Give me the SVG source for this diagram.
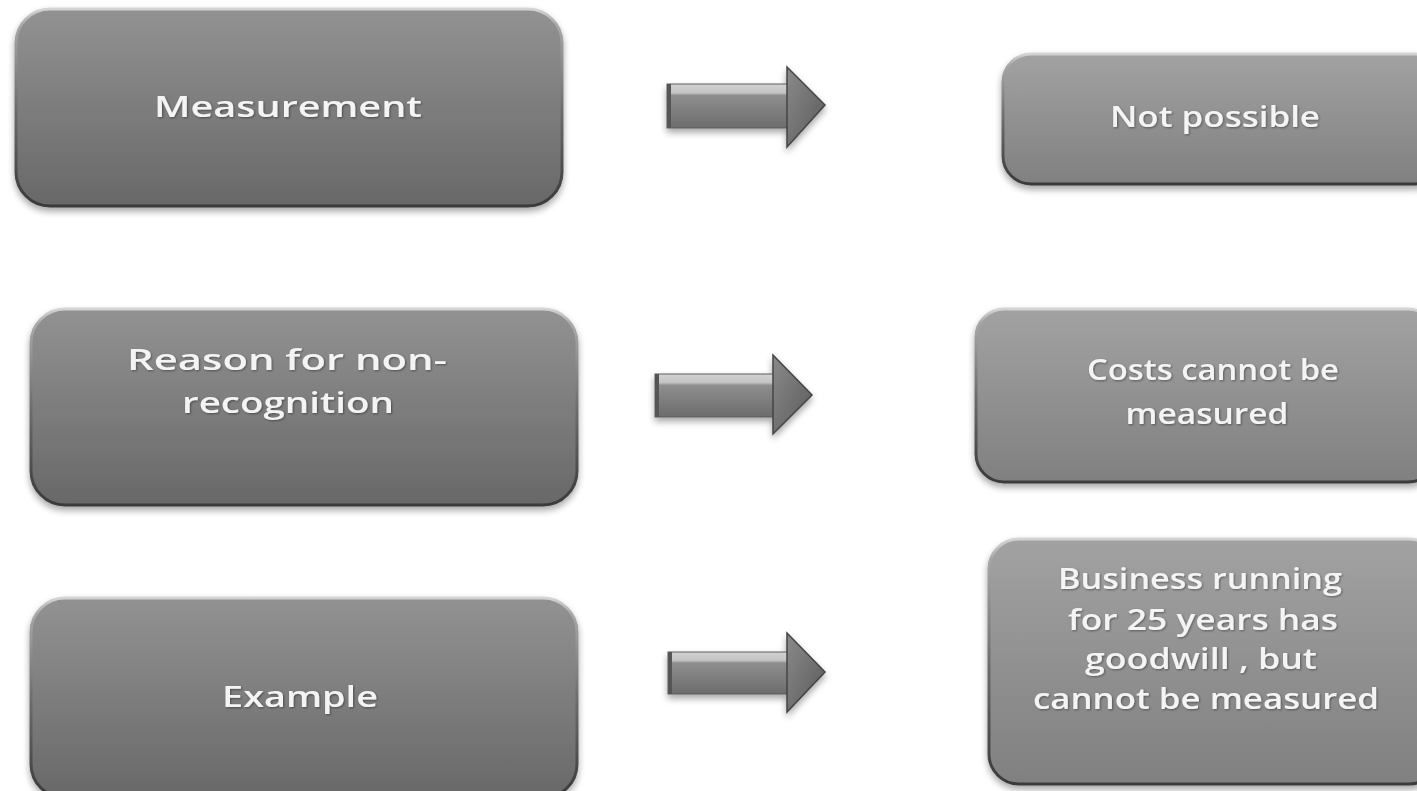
<svg xmlns="http://www.w3.org/2000/svg" width="1417" height="791" viewBox="0 0 1417 791">
  <defs>
    <linearGradient id="fillDark" x1="0" y1="0" x2="0" y2="1">
      <stop offset="0" stop-color="#929292"/>
      <stop offset="1" stop-color="#686868"/>
    </linearGradient>
    <linearGradient id="fillLight" x1="0" y1="0" x2="0" y2="1">
      <stop offset="0" stop-color="#a2a2a2"/>
      <stop offset="1" stop-color="#808080"/>
    </linearGradient>
    <linearGradient id="rim" x1="0" y1="0" x2="0" y2="1">
      <stop offset="0" stop-color="#d4d4d4"/>
      <stop offset="0.08" stop-color="#a8a8a8"/>
      <stop offset="0.5" stop-color="#6e6e6e"/>
      <stop offset="1" stop-color="#3a3a3a"/>
    </linearGradient>
    <linearGradient id="shaft" x1="0" y1="0" x2="0" y2="1">
      <stop offset="0" stop-color="#d2d2d2"/>
      <stop offset="0.2" stop-color="#c4c4c4"/>
      <stop offset="0.26" stop-color="#8e8e8e"/>
      <stop offset="1" stop-color="#6c6c6c"/>
    </linearGradient>
    <linearGradient id="head" x1="0" y1="0" x2="1" y2="1">
      <stop offset="0" stop-color="#8a8a8a"/>
      <stop offset="1" stop-color="#5a5a5a"/>
    </linearGradient>
    <filter id="shadow" x="-10%" y="-10%" width="120%" height="130%">
      <feGaussianBlur in="SourceAlpha" stdDeviation="3.5"/>
      <feOffset dx="0" dy="4" result="b"/>
      <feComponentTransfer><feFuncA type="linear" slope="0.35"/></feComponentTransfer>
      <feMerge><feMergeNode/><feMergeNode in="SourceGraphic"/></feMerge>
    </filter>
    <filter id="txtShadow" x="-5%" y="-20%" width="110%" height="140%">
      <feDropShadow dx="1" dy="1" stdDeviation="0.8" flood-color="#000" flood-opacity="0.4"/>
    </filter>
  </defs>
  <style>
    .box { stroke: url(#rim); stroke-width: 3; filter: url(#shadow); }
    .left { fill: url(#fillDark); }
    .right { fill: url(#fillLight); }
    .label { font-family: "Open Sans", "Liberation Sans", sans-serif; font-weight: 600; font-size: 28px; fill: #f4f4f4; text-anchor: middle; filter: url(#txtShadow); }
    .shaft { fill: url(#shaft); stroke: #5c5c5c; stroke-width: 1; }
    .head { fill: url(#head); stroke: #444; stroke-width: 1.5; stroke-linejoin: miter; }
    .cap { fill: #555; }
  </style>

  <rect width="1417" height="791" fill="#ffffff"/>

  <!-- left column -->
  <g id="measurement">
    <rect class="box left" x="16" y="9" width="546" height="197" rx="34"/>
    <text class="label" x="288" y="117" textLength="268" lengthAdjust="spacingAndGlyphs">Measurement</text>
  </g>
  <g id="reason">
    <rect class="box left" x="31" y="309" width="546" height="196" rx="34"/>
    <text class="label" x="287" y="370" textLength="320" lengthAdjust="spacingAndGlyphs">Reason for non-</text>
    <text class="label" x="288" y="413" textLength="212" lengthAdjust="spacingAndGlyphs">recognition</text>
  </g>
  <g id="example">
    <rect class="box left" x="31" y="598" width="546" height="200" rx="34"/>
    <text class="label" x="300" y="707" textLength="156" lengthAdjust="spacingAndGlyphs">Example</text>
  </g>

  <!-- right column -->
  <g id="not-possible">
    <rect class="box right" x="1003" y="54" width="440" height="130" rx="28"/>
    <text class="label" x="1215" y="127" textLength="210" lengthAdjust="spacingAndGlyphs">Not possible</text>
  </g>
  <g id="costs">
    <rect class="box right" x="976" y="309" width="460" height="173" rx="28"/>
    <text class="label" x="1213" y="380" textLength="252" lengthAdjust="spacingAndGlyphs">Costs cannot be</text>
    <text class="label" x="1207" y="424" textLength="163" lengthAdjust="spacingAndGlyphs">measured</text>
  </g>
  <g id="example-detail">
    <rect class="box right" x="989" y="539" width="450" height="245" rx="30"/>
    <text class="label" x="1200" y="589" textLength="284" lengthAdjust="spacingAndGlyphs">Business running</text>
    <text class="label" x="1203" y="630" textLength="270" lengthAdjust="spacingAndGlyphs">for 25 years has</text>
    <text class="label" x="1201" y="669" textLength="232" lengthAdjust="spacingAndGlyphs">goodwill , but</text>
    <text class="label" x="1206" y="709" textLength="346" lengthAdjust="spacingAndGlyphs">cannot be measured</text>
  </g>

  <!-- connectors -->
  <g id="connectors" filter="url(#shadow)">
    <g id="arrow-1">
      <rect class="shaft" x="667" y="84" width="122" height="44"/>
      <rect class="cap" x="667" y="84" width="4" height="44"/>
      <polygon class="head" points="787,67 825,105 787,147"/>
    </g>
    <g id="arrow-2">
      <rect class="shaft" x="655" y="374" width="120" height="43"/>
      <rect class="cap" x="655" y="374" width="4" height="43"/>
      <polygon class="head" points="773,355 812,395 773,434"/>
    </g>
    <g id="arrow-3">
      <rect class="shaft" x="668" y="652" width="121" height="42"/>
      <rect class="cap" x="668" y="652" width="4" height="42"/>
      <polygon class="head" points="787,633 825,672 787,712"/>
    </g>
  </g>
</svg>
